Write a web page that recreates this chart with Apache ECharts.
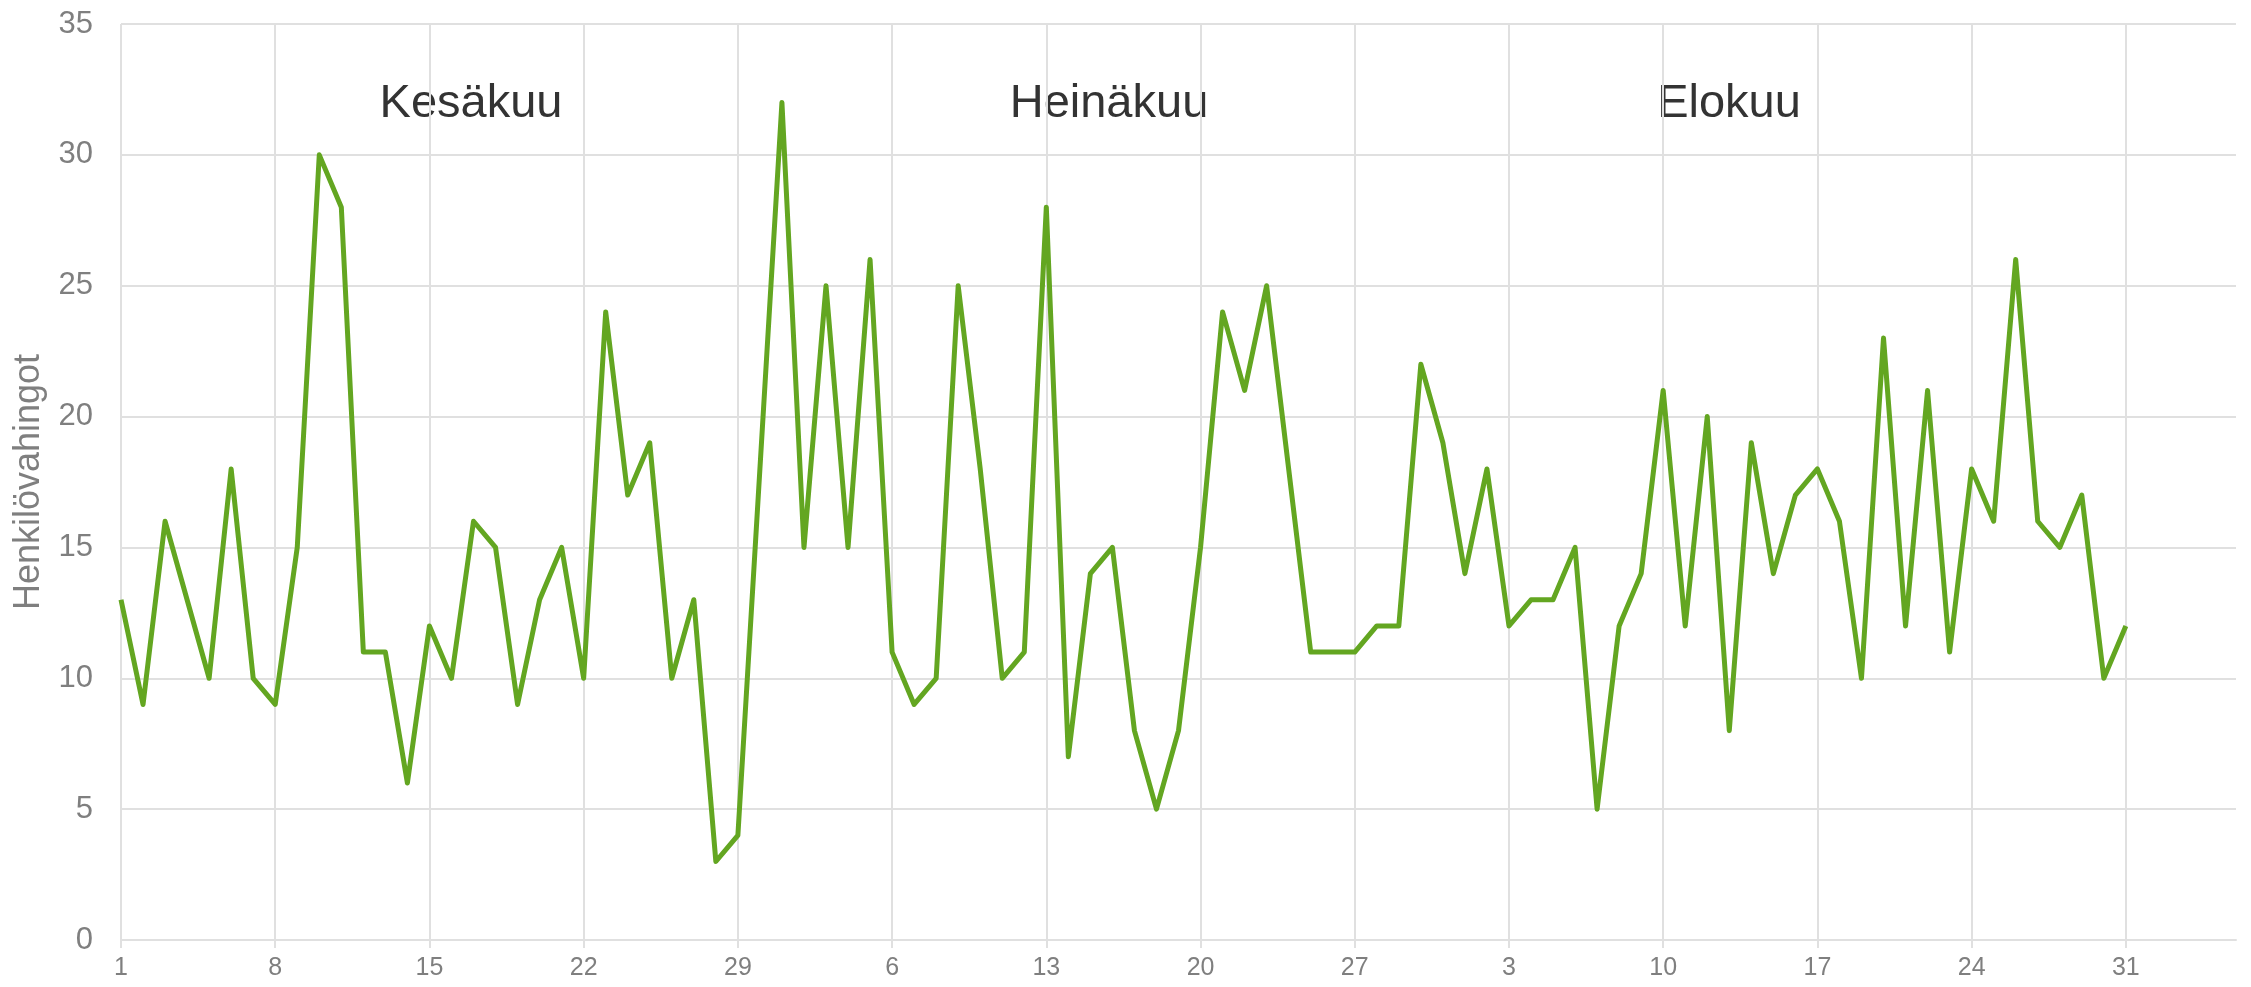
<!DOCTYPE html>
<html>
<head>
<meta charset="utf-8">
<script src="https://cdn.jsdelivr.net/npm/echarts@6/dist/echarts.min.js"></script>
<style>
  html, body { margin: 0; padding: 0; background: #ffffff; }
  #chart { width: 2251px; height: 987px; }
</style>
</head>
<body>
<div id="chart"></div>
<script>
// Daily values (Henkilövahingot), June 1 – August 31
const juneValues = [13, 9, 16, 13, 10, 18, 10, 9, 15, 30, 28, 11, 11, 6, 12, 10, 16, 15, 9, 13, 15, 10, 24, 17, 19, 10, 13, 3, 4, 18];
const julyValues = [32, 15, 25, 15, 26, 11, 9, 10, 25, 18, 10, 11, 28, 7, 14, 15, 8, 5, 8, 15, 24, 21, 25, 18, 11, 11, 11, 12, 12, 22, 19];
const augustValues = [14, 18, 12, 13, 13, 15, 5, 12, 14, 21, 12, 20, 8, 19, 14, 17, 18, 16, 10, 23, 12, 21, 11, 18, 16, 26, 16, 15, 17, 10, 12];
const monthNames = ['Kesäkuu', 'Heinäkuu', 'Elokuu'];
const yAxisTitle = 'Henkilövahingot';
const emptyTrailingDays = 5;

// Build categories: "month-day"
const categories = [];
[juneValues, julyValues, augustValues].forEach((arr, m) => {
  arr.forEach((_, d) => categories.push((m + 6) + '-' + (d + 1)));
});
for (let i = 0; i < emptyTrailingDays; i++) categories.push('x-' + i);
const values = juneValues.concat(julyValues, augustValues);
const lastDataIndex = values.length - 1;

const tickInterval = (idx) => idx % 7 === 0 && idx <= lastDataIndex;

const FONT = '"Liberation Sans", Arial, sans-serif';
const GRID_COLOR = '#e0e0e0';

const monthText = (name, x) => ({
  type: 'text', x: x, y: 104,
  style: { text: name, fontSize: 47, fontFamily: FONT, fill: '#333333', textAlign: 'center', textVerticalAlign: 'middle' }
});

const chart = echarts.init(document.getElementById('chart'), null, { renderer: 'canvas' });
chart.setOption({
  animation: false,
  backgroundColor: '#ffffff',
  grid: { left: 121, right: 15, top: 24, bottom: 47, containLabel: false },
  xAxis: {
    type: 'category',
    data: categories,
    boundaryGap: false,
    axisLine: { show: true, lineStyle: { color: GRID_COLOR, width: 2 } },
    axisTick: { show: true, interval: tickInterval, length: 8, lineStyle: { color: GRID_COLOR, width: 2 } },
    splitLine: { show: true, interval: tickInterval, lineStyle: { color: GRID_COLOR, width: 2 } },
    axisLabel: {
      interval: tickInterval,
      formatter: (v) => v.startsWith('x') ? '' : v.split('-')[1],
      color: '#7f7f7f',
      fontSize: 25,
      fontFamily: FONT,
      margin: 16
    }
  },
  yAxis: {
    type: 'value',
    min: 0,
    max: 35,
    interval: 5,
    name: yAxisTitle,
    nameLocation: 'middle',
    nameGap: 74,
    nameTextStyle: { color: '#7f7f7f', fontSize: 36, fontFamily: FONT },
    axisLine: { show: false },
    axisTick: { show: false },
    splitLine: { show: true, lineStyle: { color: GRID_COLOR, width: 2 } },
    axisLabel: { color: '#7f7f7f', fontSize: 31, fontFamily: FONT, margin: 28 }
  },
  graphic: [
    monthText(monthNames[0], 471),
    monthText(monthNames[1], 1109),
    monthText(monthNames[2], 1729)
  ],
  series: [{
    type: 'line',
    data: values,
    showSymbol: false,
    symbol: 'none',
    lineStyle: { color: '#63a621', width: 5, join: 'round' },
    z: 5
  }]
});
</script>
</body>
</html>
